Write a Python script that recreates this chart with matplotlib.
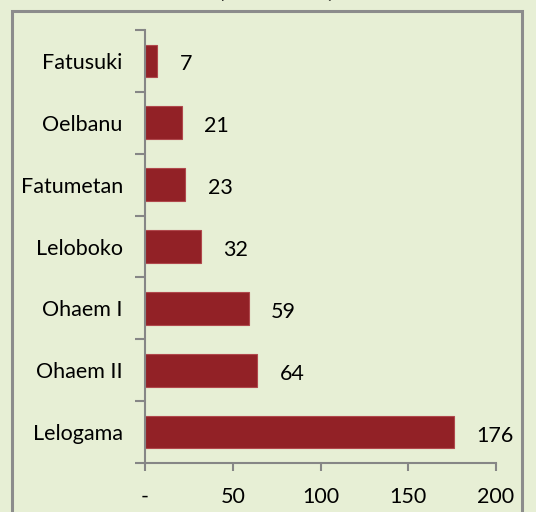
import numpy as np
import matplotlib.pyplot as plt
from matplotlib.patches import Rectangle

# data (bottom to top)
villages = ["Lelogama", "Ohaem II", "Ohaem I", "Leloboko", "Fatumetan", "Oelbanu", "Fatusuki"]
counts = [176, 64, 59, 32, 23, 21, 7]
xticks = [0, 50, 100, 150, 200]
xticklabels = ["-", "50", "100", "150", "200"]

BG = "#E7EFD5"
BAR = "#922126"
GREY = "#868686"
FS = 15.5

plt.rcParams['font.family'] = ['Lato', 'DejaVu Sans']

fig = plt.figure(figsize=(5.36, 5.12), dpi=100, facecolor=BG)
ax = fig.add_axes([0.2705, 0.0957, 0.9254 - 0.2705, 0.9414 - 0.0957])
ax.set_facecolor(BG)

ypos = np.arange(len(villages))
ax.barh(ypos, counts, height=0.53, color=BAR, edgecolor="#B0484C", linewidth=0.8)

for y, v in zip(ypos, counts):
    ax.annotate(str(v), (v, y), xytext=(16, -2.5), textcoords="offset points",
                ha="left", va="center", fontsize=FS)

ax.set_xlim(0, 200)
ax.set_ylim(-0.5, len(villages) - 0.5)
ax.set_xticks(xticks, xticklabels, fontsize=FS)
ax.set_yticks(ypos, villages, fontsize=FS)
ax.set_yticks(np.arange(len(villages) + 1) - 0.5, minor=True)
ax.tick_params(axis="y", which="major", length=0, pad=16)
ax.tick_params(axis="y", which="minor", length=7, width=1.5, color=GREY)
ax.tick_params(axis="x", length=6, width=1.5, color=GREY, pad=11)

for s in ["top", "right"]:
    ax.spines[s].set_visible(False)
for s in ["left", "bottom"]:
    ax.spines[s].set_color(GREY)
    ax.spines[s].set_linewidth(1.5)

# chart area border
fig.patches.append(Rectangle((12 / 536, -0.05), 510 / 536, 1.05 - 11 / 512,
                             transform=fig.transFigure, fill=False,
                             edgecolor="#8C8C8C", linewidth=2.2, clip_on=False))

# title, cut off at the top as in the source
fig.text(276 / 536, 1 + 2 / 512, "(Unit Rumah)", ha="center", va="baseline",
         fontsize=14, fontweight="bold")

plt.savefig("out.png", dpi=100, facecolor=BG)
